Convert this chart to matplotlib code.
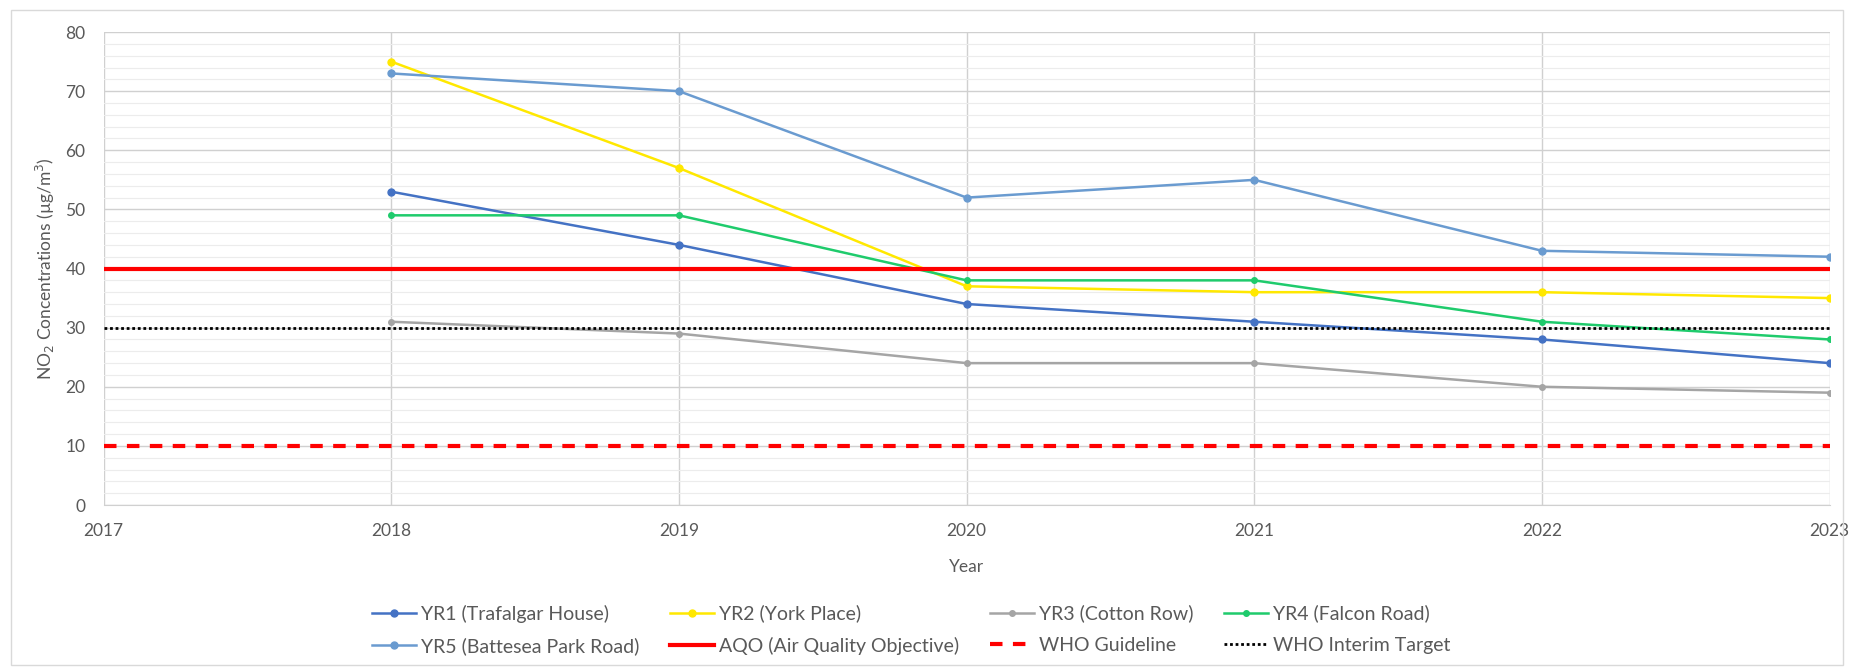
import matplotlib
matplotlib.use("Agg")
import matplotlib.pyplot as plt
from matplotlib.ticker import MultipleLocator
from matplotlib.patches import Rectangle

plt.rcParams['font.family'] = ['Lato', 'DejaVu Sans']

years = [2018, 2019, 2020, 2021, 2022, 2023]
yr1 = [53, 44, 34, 31, 28, 24]
yr2 = [75, 57, 37, 36, 36, 35]
yr3 = [31, 29, 24, 24, 20, 19]
yr4 = [49, 49, 38, 38, 31, 28]
yr5 = [73, 70, 52, 55, 43, 42]
aqo = 40
who_guideline = 10
who_interim = 30

fig = plt.figure(figsize=(18.5, 6.68), dpi=100)
ax = fig.add_axes([0.056, 0.244, 0.933, 0.708])

# outer chart border
fig.patches.append(Rectangle((0.006, 0.005), 0.99, 0.98, transform=fig.transFigure,
                             fill=False, edgecolor='#d9d9d9', linewidth=1.0))

ax.set_xlim(2017, 2023)
ax.set_ylim(0, 80)
ax.xaxis.set_major_locator(MultipleLocator(1))
ax.yaxis.set_major_locator(MultipleLocator(10))
ax.yaxis.set_minor_locator(MultipleLocator(2))
ax.grid(which='major', axis='both', color='#d0d0d0', linewidth=1.0)
ax.grid(which='minor', axis='y', color='#ececec', linewidth=0.8)
ax.set_axisbelow(True)
for s in ['top', 'right', 'left']:
    ax.spines[s].set_visible(False)
ax.spines['bottom'].set_color('#d0d0d0')
ax.tick_params(which='both', length=0, labelsize=12.5, colors='#595959')
ax.tick_params(axis='x', pad=13)
ax.tick_params(axis='y', pad=13)

h1, = ax.plot(years, yr1, color='#4472C4', marker='o', markersize=5, linewidth=1.8, label='YR1 (Trafalgar House)')
h2, = ax.plot(years, yr2, color='#FFE800', marker='o', markersize=5, linewidth=1.8, label='YR2 (York Place)')
h3, = ax.plot(years, yr3, color='#A5A5A5', marker='o', markersize=4, linewidth=1.8, label='YR3 (Cotton Row)')
h4, = ax.plot(years, yr4, color='#1FCB6C', marker='o', markersize=4, linewidth=1.8, label='YR4 (Falcon Road)')
h5, = ax.plot(years, yr5, color='#6A9BD0', marker='o', markersize=5, linewidth=1.8, label='YR5 (Battesea Park Road)')
h6 = ax.axhline(aqo, color='#FF0000', linewidth=3, label='AQO (Air Quality Objective)')
h7 = ax.axhline(who_guideline, color='#FF0000', linewidth=3, linestyle=(0, (3, 2.5)), label='WHO Guideline')
h8 = ax.axhline(who_interim, color='#000000', linewidth=2, linestyle=(0, (1, 1)), label='WHO Interim Target')

ax.set_xlabel('Year', fontsize=12.5, color='#595959', labelpad=14)
ax.set_ylabel('NO$_2$ Concentrations (µg/m$^3$)', fontsize=12.5, color='#595959', labelpad=6)

handles = [h1, h5, h2, h6, h3, h7, h4, h8]
fig.legend(handles=handles, labels=[h.get_label() for h in handles], ncol=4,
           loc='center', bbox_to_anchor=(0.4925, 0.057), frameon=False, fontsize=14,
           labelcolor='#595959', columnspacing=1.55, handlelength=2.3, handletextpad=0.25,
           labelspacing=0.75)

fig.savefig('out.png', dpi=100)
